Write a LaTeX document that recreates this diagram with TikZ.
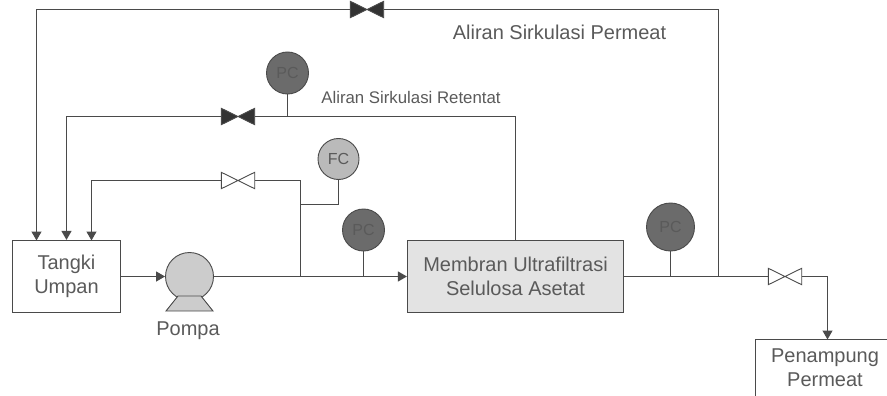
\documentclass[tikz,border=0pt]{standalone}
\usepackage{fontspec}
\setmainfont{Liberation Sans}
\usetikzlibrary{arrows.meta}
\definecolor{ln}{HTML}{4A4A4A}
\definecolor{tx}{HTML}{5A5A5A}
\tikzset{
  pipe/.style={draw=ln,line width=1.15pt},
  flow/.style={pipe,-{Triangle[length=9pt,width=10pt]}},
  boxn/.style={draw=ln,line width=1.15pt,inner sep=0pt,text=tx,align=center,font=\fontsize{20}{24.5}\selectfont},
  valve/.style={inner sep=0pt,minimum width=33pt,minimum height=16pt},
  gauge/.style={circle,draw=ln,line width=.9pt,inner sep=0pt,text=tx,font=\fontsize{16}{18}\selectfont},
  lab/.style={text=tx,inner sep=0pt},
}
\newcommand{\valveshape}[2]{\draw[draw=ln,line width=.9pt,fill=#2] (#1.north west) -- (#1.south east) -- (#1.north east) -- (#1.south west) -- cycle;}
\begin{document}
\begin{tikzpicture}[x=1pt,y=-1pt]
\useasboundingbox (0,0) rectangle (887,396);
% process boxes
\node[boxn,minimum width=108pt,minimum height=72pt] (tank) at (66.5,276.5) {Tangki\\Umpan};
\node[boxn,fill=black!11,minimum width=216pt,minimum height=72pt] (mem) at (515.5,276.5) {Membran Ultrafiltrasi\\Selulosa Asetat};
% receiver: box runs past the picture edge
\coordinate (rtop) at (827.5,339.5);
\draw[pipe] (755.5,396) -- (755.5,339.5) -- (887,339.5);
\node[lab,font=\fontsize{20}{24.5}\selectfont,align=center] (rec) at (825,367.5) {Penampung\\Permeat};
% pump
\node[circle,draw=ln,line width=.9pt,fill=black!20,minimum size=48pt,inner sep=0pt] (pump) at (189.5,276.5) {};
\fill[black!20] (178,296) -- (201,296) -- (213,311) -- (166,311) -- cycle;
\draw[ln,line width=.9pt] (178,296) -- (166,311) -- (213,311) -- (201,296) -- cycle;
\node[lab,font=\fontsize{20}{24}\selectfont] (pompa) at (188,331) {Pompa};
% instruments
\node[gauge,fill=black!58,minimum size=42pt] (pc1) at (287.5,73) {PC};
\node[gauge,fill=black!27,minimum size=41pt] (fc) at (338.5,159) {FC};
\node[gauge,fill=black!58,minimum size=42pt] (pc2) at (363.5,230) {PC};
\node[gauge,fill=black!58,minimum size=48pt] (pc3) at (670.5,227) {PC};
% valves
\node[valve] (v1) at (367,9.5) {};
\node[valve] (v2) at (238,116.5) {};
\node[valve] (v3) at (238,180.5) {};
\node[valve] (v4) at (785,276.5) {};
\valveshape{v1}{black!80}
\valveshape{v2}{black!80}
\valveshape{v3}{white}
\valveshape{v4}{white}
% junctions
\coordinate (jb) at (300.5,276.5);
\coordinate (jp2) at (363.5,276.5);
\coordinate (jp3) at (670.5,276.5);
\coordinate (jperm) at (718.5,276.5);
\coordinate (jr) at (287.5,116.5);
% connectors
\draw[flow] (tank.east) -- (pump.west);
\draw[flow] (pump.east) -- (mem.west);
\draw[pipe] (jb) |- (v3.east);
\draw[flow] (v3.west) -| (91.5,240.5);
\draw[pipe] (fc.south) |- (300.5,204.5);
\draw[pipe] (pc2.south) -- (jp2);
\draw[pipe] (pc1.south) -- (jr);
\draw[pipe] (mem.north) |- (v2.east);
\draw[flow] (v2.west) -| (tank.north);
\draw[pipe] (mem.east) -- (v4.west);
\draw[pipe] (pc3.south) -- (jp3);
\draw[pipe] (jperm) |- (v1.east);
\draw[flow] (v1.west) -| (36.5,240.5);
\draw[flow] (v4.east) -| (rtop);
% labels
\node[lab,font=\fontsize{20}{24}\selectfont] (l1) at (559.5,32) {Aliran Sirkulasi Permeat};
\node[lab,font=\fontsize{16.8}{20}\selectfont] (l2) at (411,97) {Aliran Sirkulasi Retentat};
\end{tikzpicture}
\end{document}
